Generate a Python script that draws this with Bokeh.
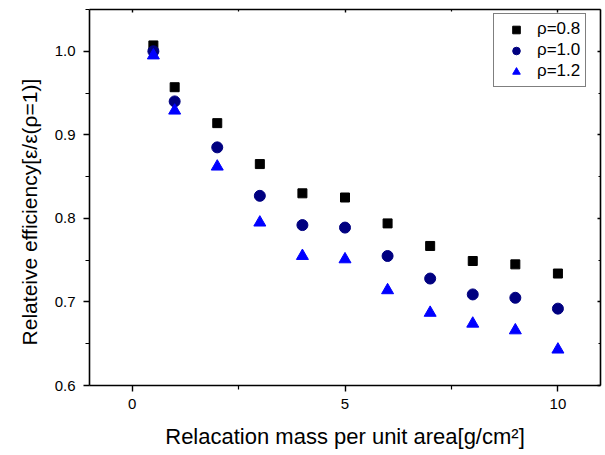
from bokeh.plotting import figure
from bokeh.models import (LinearAxis, Range1d, Legend, LegendItem, PrintfTickFormatter,
                          FixedTicker, CustomJSTickFormatter)
from bokeh.embed import file_html
from bokeh.resources import INLINE

x_vals = [0.5, 1, 2, 3, 4, 5, 6, 7, 8, 9, 10]
rho_08 = [1.007, 0.957, 0.914, 0.865, 0.830, 0.825, 0.794, 0.767, 0.749, 0.745, 0.734]
rho_10 = [1.000, 0.940, 0.885, 0.827, 0.792, 0.789, 0.755, 0.728, 0.709, 0.705, 0.692]
rho_12 = [0.995, 0.929, 0.862, 0.795, 0.755, 0.751, 0.714, 0.687, 0.674, 0.666, 0.643]
labels = ["\u03c1=0.8", "\u03c1=1.0", "\u03c1=1.2"]
x_ticks = [0, 5, 10]
x_minor = [2.5, 7.5]
y_ticks = [0.6, 0.7, 0.8, 0.9, 1.0]
y_minor = [0.65, 0.75, 0.85, 0.95, 1.05]

FONT = "Liberation Sans"

p = figure(width=604, height=454, output_backend="svg", toolbar_location=None,
           x_range=Range1d(-1, 11), y_range=Range1d(0.6, 1.05),
           min_border_left=89, min_border_right=4, min_border_top=9, min_border_bottom=69)
p.grid.visible = False
p.outline_line_color = None
p.background_fill_color = "white"
p.border_fill_color = "white"

r1 = p.scatter(x_vals, rho_08, marker="square", size=9, color="black")
r2 = p.scatter(x_vals, rho_10, marker="circle", size=11, color="#000080")
r3 = p.scatter(x_vals, rho_12, marker="triangle", size=12, color="#0000ff")

def style(ax, inward=False):
    ax.axis_line_width = 1.6
    ax.axis_line_color = "black"
    ax.major_tick_line_color = "black"
    ax.minor_tick_line_color = "black"
    ax.major_tick_line_width = 1.4
    ax.minor_tick_line_width = 1.2
    if inward:
        ax.major_tick_in = 3
        ax.major_tick_out = 0
        ax.minor_tick_in = 2
        ax.minor_tick_out = 0
        ax.formatter = CustomJSTickFormatter(code="return '';")
        ax.major_label_standoff = 0
    else:
        ax.major_tick_in = 0
        ax.major_tick_out = 6
        ax.minor_tick_in = 0
        ax.minor_tick_out = 4
    ax.major_label_text_font = FONT
    ax.major_label_text_font_size = "15px"
    ax.major_label_text_color = "black"
    ax.axis_label_text_font = FONT
    ax.axis_label_text_font_size = "22px"
    ax.axis_label_text_font_style = "normal"
    ax.axis_label_text_color = "black"

xa = p.xaxis[0]
xa.ticker = FixedTicker(ticks=x_ticks, minor_ticks=x_minor)
style(xa)
xa.axis_label = "Relacation mass per unit area[g/cm\u00b2]"
xa.major_label_standoff = 7
xa.axis_label_standoff = 12

ya = p.yaxis[0]
ya.ticker = FixedTicker(ticks=y_ticks, minor_ticks=y_minor)
ya.formatter = PrintfTickFormatter(format="%.1f")
style(ya)
ya.axis_label = "Relateive efficiency[\u03b5/\u03b5(\u03c1=1)]" + "\u00a0" * 5
ya.axis_label_text_font_size = "21px"
ya.major_label_standoff = 8
ya.axis_label_standoff = 11

top = LinearAxis(ticker=FixedTicker(ticks=x_ticks, minor_ticks=x_minor))
style(top, inward=True)
p.add_layout(top, "above")
right = LinearAxis(ticker=FixedTicker(ticks=y_ticks, minor_ticks=y_minor))
style(right, inward=True)
p.add_layout(right, "right")

legend = Legend(items=[LegendItem(label=labels[0], renderers=[r1]),
                       LegendItem(label=labels[1], renderers=[r2]),
                       LegendItem(label=labels[2], renderers=[r3])],
                location=(404, 298))
legend.label_text_font = FONT
legend.label_text_font_size = "17px"
legend.label_text_color = "black"
legend.border_line_color = "black"
legend.border_line_width = 1
legend.padding = 5
legend.spacing = 1
legend.margin = 0
legend.glyph_width = 34
legend.glyph_height = 19
legend.label_height = 19
legend.label_standoff = 4
p.add_layout(legend)

open("out.html", "w").write(file_html(p, INLINE))
